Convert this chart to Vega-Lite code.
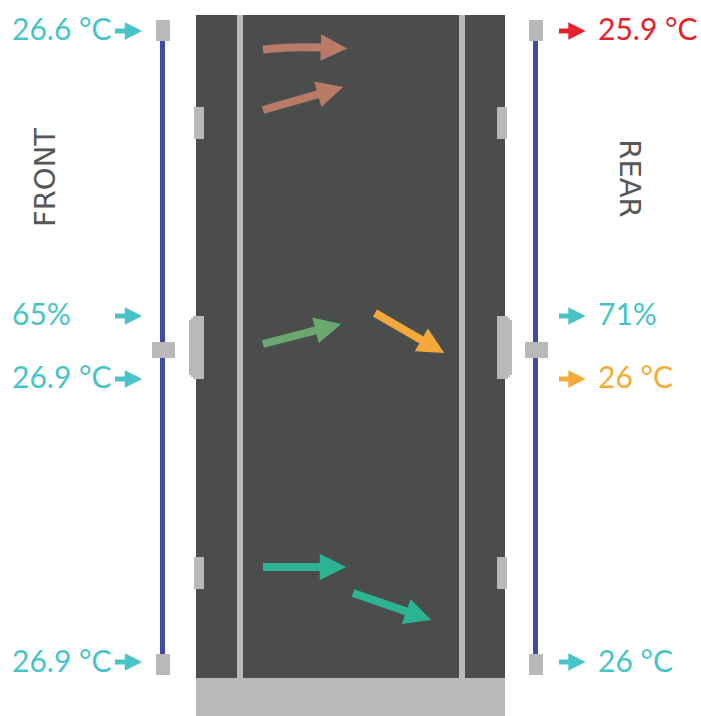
{
  "$schema": "https://vega.github.io/schema/vega-lite/v6.json",
  "width": 701,
  "height": 716,
  "padding": 0,
  "autosize": {"type": "fit", "contains": "padding"},
  "background": "#ffffff",
  "config": {"view": {"stroke": null}},
  "datasets": {
    "shapes": [
      {"x": 196, "x2": 505, "y": 15, "y2": 678, "tone": "rack"},
      {"x": 196, "x2": 505, "y": 678, "y2": 716, "tone": "base"},
      {"x": 237, "x2": 243, "y": 15, "y2": 678, "tone": "base"},
      {"x": 459, "x2": 465, "y": 15, "y2": 678, "tone": "base"},
      {"x": 160, "x2": 165, "y": 38, "y2": 660, "tone": "wire"},
      {"x": 533, "x2": 538, "y": 38, "y2": 660, "tone": "wire"},
      {"x": 156, "x2": 170, "y": 20, "y2": 41, "tone": "base"},
      {"x": 152, "x2": 175, "y": 342, "y2": 358, "tone": "base"},
      {"x": 156, "x2": 170, "y": 654, "y2": 675, "tone": "base"},
      {"x": 529, "x2": 543, "y": 20, "y2": 41, "tone": "base"},
      {"x": 525, "x2": 548, "y": 342, "y2": 358, "tone": "base"},
      {"x": 529, "x2": 543, "y": 654, "y2": 675, "tone": "base"},
      {"x": 194, "x2": 204, "y": 107, "y2": 139, "tone": "base"},
      {"x": 194, "x2": 204, "y": 557, "y2": 589, "tone": "base"},
      {"x": 189, "x2": 204, "y": 320, "y2": 375, "tone": "base"},
      {"x": 191, "x2": 204, "y": 318, "y2": 377, "tone": "base"},
      {"x": 193, "x2": 204, "y": 316, "y2": 379, "tone": "base"},
      {"x": 497, "x2": 507, "y": 107, "y2": 139, "tone": "base"},
      {"x": 497, "x2": 507, "y": 557, "y2": 589, "tone": "base"},
      {"x": 497, "x2": 512, "y": 320, "y2": 375, "tone": "base"},
      {"x": 497, "x2": 510, "y": 318, "y2": 377, "tone": "base"},
      {"x": 497, "x2": 508, "y": 316, "y2": 379, "tone": "base"}
    ],
    "flows": [
      {"id": 1, "k": 1, "x": 263, "y": 49.5, "tone": "flowBrown"},
      {"id": 1, "k": 2, "x": 300, "y": 47.2, "tone": "flowBrown"},
      {"id": 1, "k": 3, "x": 334, "y": 47.5, "tone": "flowBrown"},
      {"id": 2, "k": 1, "x": 263, "y": 110, "tone": "flowBrown"},
      {"id": 2, "k": 2, "x": 330.5, "y": 90.6, "tone": "flowBrown"},
      {"id": 3, "k": 1, "x": 263, "y": 344, "tone": "flowGreen"},
      {"id": 3, "k": 2, "x": 328.4, "y": 327.2, "tone": "flowGreen"},
      {"id": 4, "k": 1, "x": 375, "y": 313, "tone": "flowOrange"},
      {"id": 4, "k": 2, "x": 432.8, "y": 346.5, "tone": "flowOrange"},
      {"id": 5, "k": 1, "x": 263, "y": 567, "tone": "flowTeal"},
      {"id": 5, "k": 2, "x": 333, "y": 567, "tone": "flowTeal"},
      {"id": 6, "k": 1, "x": 353, "y": 593, "tone": "flowTeal"},
      {"id": 6, "k": 2, "x": 418.7, "y": 615.7, "tone": "flowTeal"}
    ],
    "heads": [
      {"x": 334, "y": 48, "deg": 2, "tone": "flowBrown"},
      {"x": 330.5, "y": 90.6, "deg": -16, "tone": "flowBrown"},
      {"x": 328.4, "y": 327.2, "deg": -14, "tone": "flowGreen"},
      {"x": 432.8, "y": 346.5, "deg": 30, "tone": "flowOrange"},
      {"x": 333, "y": 567, "deg": 0, "tone": "flowTeal"},
      {"x": 418.7, "y": 615.7, "deg": 19, "tone": "flowTeal"}
    ],
    "pointers": [
      {"id": "L1", "x": 115, "x2": 128, "hx": 133.5, "y": 31, "tone": "teal"},
      {"id": "L2", "x": 115, "x2": 128, "hx": 133.5, "y": 316, "tone": "teal"},
      {"id": "L3", "x": 115, "x2": 128, "hx": 133.5, "y": 379, "tone": "teal"},
      {"id": "L4", "x": 115, "x2": 128, "hx": 133.5, "y": 662, "tone": "teal"},
      {"id": "R1", "x": 559, "x2": 572, "hx": 577, "y": 31, "tone": "red"},
      {"id": "R2", "x": 559, "x2": 572, "hx": 577, "y": 316, "tone": "teal"},
      {"id": "R3", "x": 559, "x2": 572, "hx": 577, "y": 379, "tone": "orange"},
      {"id": "R4", "x": 559, "x2": 572, "hx": 577, "y": 662, "tone": "teal"}
    ],
    "labels": [
      {"x": 12, "y": 40, "label": "26.6 °C", "tone": "teal"},
      {"x": 12, "y": 325, "label": "65%", "tone": "teal"},
      {"x": 12, "y": 388, "label": "26.9 °C", "tone": "teal"},
      {"x": 12, "y": 672, "label": "26.9 °C", "tone": "teal"},
      {"x": 598, "y": 40, "label": "25.9 °C", "tone": "red"},
      {"x": 598, "y": 325, "label": "71%", "tone": "teal"},
      {"x": 598, "y": 388, "label": "26 °C", "tone": "orange"},
      {"x": 598, "y": 672, "label": "26 °C", "tone": "teal"}
    ],
    "sides": [
      {"x": 45.5, "y": 177.5, "label": "FRONT", "deg": -90, "tone": "ink"},
      {"x": 628.5, "y": 178.5, "label": "REAR", "deg": 90, "tone": "ink"}
    ]
  },
  "encoding": {
    "x": {"field": "x", "type": "quantitative", "axis": null, "scale": {"domain": [0, 701], "nice": false, "zero": false}},
    "y": {"field": "y", "type": "quantitative", "axis": null, "scale": {"domain": [0, 716], "nice": false, "zero": false, "reverse": true}},
    "color": {
      "field": "tone", "type": "nominal", "legend": null,
      "scale": {
        "domain": ["rack", "base", "wire", "teal", "red", "orange", "ink", "flowBrown", "flowGreen", "flowOrange", "flowTeal"],
        "range": ["#4a4d4c", "#b9b9b9", "#3f4c9f", "#48c4c8", "#e8202a", "#f6aa3a", "#555759", "#b97a67", "#6aa870", "#f2a83a", "#2db394"]
      }
    }
  },
  "layer": [
    {
      "data": {"name": "shapes"},
      "mark": {"type": "rect", "strokeWidth": 0},
      "encoding": {
        "x2": {"field": "x2"},
        "y2": {"field": "y2"}
      }
    },
    {
      "data": {"name": "flows"},
      "mark": {"type": "line", "strokeWidth": 8, "interpolate": "monotone", "strokeCap": "butt"},
      "encoding": {
        "detail": {"field": "id", "type": "nominal"},
        "order": {"field": "k", "type": "quantitative"}
      }
    },
    {
      "data": {"name": "heads"},
      "mark": {"type": "point", "shape": "M-1,-1L1,0L-1,1Z", "filled": true, "opacity": 1, "size": 700, "strokeWidth": 0},
      "encoding": {
        "angle": {"field": "deg", "type": "quantitative", "scale": null}
      }
    },
    {
      "data": {"name": "pointers"},
      "mark": {"type": "rule", "strokeWidth": 5},
      "encoding": {
        "x2": {"field": "x2"}
      }
    },
    {
      "data": {"name": "pointers"},
      "mark": {"type": "point", "shape": "M-1,-1L1,0L-1,1Z", "filled": true, "opacity": 1, "size": 300, "strokeWidth": 0},
      "encoding": {
        "x": {"field": "hx", "type": "quantitative"}
      }
    },
    {
      "data": {"name": "labels"},
      "mark": {"type": "text", "align": "left", "baseline": "alphabetic", "font": "Lato", "fontSize": 30},
      "encoding": {
        "text": {"field": "label", "type": "nominal"}
      }
    },
    {
      "data": {"name": "sides"},
      "mark": {"type": "text", "align": "center", "baseline": "middle", "font": "DejaVu Sans", "fontSize": 29},
      "encoding": {
        "text": {"field": "label", "type": "nominal"},
        "angle": {"field": "deg", "type": "quantitative", "scale": null}
      }
    }
  ]
}
